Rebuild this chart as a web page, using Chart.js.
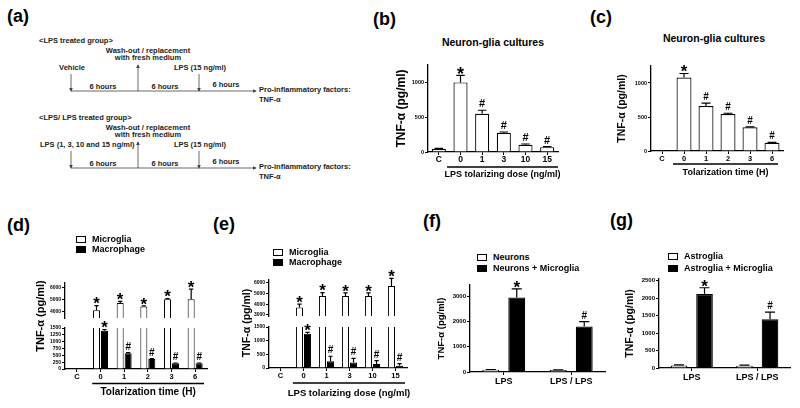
<!DOCTYPE html>
<html>
<head>
<meta charset="utf-8">
<title>TNF-α tolerance figure</title>
<script src="https://cdn.jsdelivr.net/npm/chart.js@4.4.1/dist/chart.umd.min.js"></script>
<style>
body { margin: 0; background: #fff; }
#fig { position: relative; width: 800px; height: 408px; overflow: hidden; background: #fff;
  font-family: 'Liberation Sans', Arial, sans-serif; font-weight: bold; color: #000; }
#fig canvas { position: absolute; }
.lbl { position: absolute; white-space: nowrap; line-height: 1; }
.key { position: absolute; width: 10px; height: 7px; border: 1px solid #000; box-sizing: border-box; }
#schema { position: absolute; left: 0; top: 0; }
#schema text { font-size: 7.5px; font-weight: bold; fill: #222; dominant-baseline: central; }
#schema line { stroke: #444; stroke-width: 0.8; }
</style>
</head>
<body>
<div id="fig">
  <svg id="schema" width="380" height="200">
    <defs>
      <marker id="ah" viewBox="0 0 6 6" refX="5" refY="3" markerWidth="5" markerHeight="5" orient="auto">
        <path d="M0,0 L6,3 L0,6 z" fill="#444"/>
      </marker>
    </defs>
  </svg>
  <canvas id="chartB" width="172" height="127" style="left:390px;top:55px"></canvas>
  <canvas id="chartC" width="176" height="124" style="left:612px;top:56px"></canvas>
  <canvas id="chartD1" width="167" height="49" style="left:45px;top:273px"></canvas>
  <canvas id="chartD2" width="167" height="84" style="left:45px;top:315px"></canvas>
  <canvas id="chartE1" width="163" height="58" style="left:249px;top:262px"></canvas>
  <canvas id="chartE2" width="163" height="86" style="left:249px;top:314px"></canvas>
  <canvas id="chartF" width="178" height="122" style="left:432px;top:268px"></canvas>
  <canvas id="chartG" width="176" height="124" style="left:620px;top:262px"></canvas>
</div>
<script>
// categories
const doseLabels = ['C', '0', '1', '3', '10', '15'];
const timeLabels = ['C', '0', '1', '2', '3', '6'];
const groupLabels = ['LPS', 'LPS / LPS'];

// (b) neuron-glia cultures, tolarizing dose
const bValues = [45, 1000, 550, 275, 105, 70];
const bErrors = [8, 100, 50, 12, 10, 8];
const bMarks = ['', '*', '#', '#', '#', '#'];
const bTicks = [0, 500, 1000];

// (c) neuron-glia cultures, tolarization time
const cValues = [null, 1080, 660, 545, 348, 120];
const cErrors = [0, 60, 45, 10, 8, 6];
const cMarks = ['', '*', '#', '#', '#', '#'];
const cTicks = [0, 500, 1000];

// (d) microglia vs macrophage, time
const dSeries = ['Microglia', 'Macrophage'];
const dMicroglia = [null, 4150, 4750, 4450, 5050, 5050];
const dMicrogliaErr = [0, 380, 120, 60, 50, 850];
const dMicrogliaMarks = ['', '*', '*', '*', '*', '*'];
const dMacrophage = [null, 1400, 580, 370, 210, 210];
const dMacrophageErr = [0, 40, 20, 10, 10, 10];
const dMacrophageMarks = ['', '*', '#', '#', '#', '#'];
const dUpperTicks = [4000, 5000, 6000];
const dLowerTicks = [0, 250, 500, 750, 1000, 1250, 1500];

// (e) microglia vs macrophage, dose
const eMicroglia = [null, 3700, 4750, 4750, 4750, 5700];
const eMicrogliaErr = [0, 300, 320, 300, 300, 700];
const eMicrogliaMarks = ['', '*', '*', '*', '*', '*'];
const eMacrophage = [null, 1250, 250, 200, 150, 80];
const eMacrophageErr = [0, 50, 180, 150, 120, 80];
const eMacrophageMarks = ['', '*', '#', '#', '#', '#'];
const eUpperTicks = [3000, 4000, 5000, 6000];
const eLowerTicks = [0, 500, 1000, 1500];

// (f) neurons
const fSeries = ['Neurons', 'Neurons + Microglia'];
const fNeurons = [90, 80];
const fNeuronsErr = [10, 10];
const fMixed = [2950, 1800];
const fMixedErr = [350, 200];
const fMixedMarks = ['*', '#'];
const fTicks = [0, 1000, 2000, 3000];

// (g) astroglia
const gSeries = ['Astroglia', 'Astroglia + Microglia'];
const gAstroglia = [75, 65];
const gAstrogliaErr = [15, 15];
const gMixed = [2120, 1400];
const gMixedErr = [180, 200];
const gMixedMarks = ['*', '#'];
const gTicks = [0, 500, 1000, 1500, 2000, 2500];

const FONT = "'Liberation Sans', Arial, sans-serif";
Chart.defaults.font.family = FONT;
Chart.defaults.font.weight = 'bold';
Chart.defaults.color = '#000';

// error bars (upper SEM) and significance marks
const errorMarks = {
  id: 'errorMarks',
  afterDatasetsDraw(chart, args, opts) {
    const ctx = chart.ctx;
    const y = chart.scales.y;
    chart.data.datasets.forEach((ds, i) => {
      chart.getDatasetMeta(i).data.forEach((bar, j) => {
        const v = ds.data[j];
        if (v == null || v < y.min || v > y.max) return;
        const err = ds.errors ? ds.errors[j] : 0;
        const top = y.getPixelForValue(v + err);
        ctx.save();
        ctx.strokeStyle = '#000';
        ctx.lineWidth = 1.2;
        if (err) {
          const cap = bar.width * 0.3;
          ctx.beginPath();
          ctx.moveTo(bar.x, bar.y);
          ctx.lineTo(bar.x, top);
          ctx.moveTo(bar.x - cap, top);
          ctx.lineTo(bar.x + cap, top);
          ctx.stroke();
        }
        const m = ds.marks ? ds.marks[j] : '';
        if (m) {
          const size = m === '*' ? opts.star : opts.hash;
          ctx.font = `bold ${size}px ${FONT}`;
          ctx.fillStyle = '#000';
          ctx.textAlign = 'center';
          ctx.textBaseline = 'alphabetic';
          ctx.fillText(m, bar.x, top - 3 + (m === '*' ? size * 0.4 : 0));
        }
        ctx.restore();
      });
    });
  }
};

// line under the treated groups with the x-axis caption
const bracket = {
  id: 'bracket',
  afterDraw(chart, args, opts) {
    if (!opts.text) return;
    const { ctx, chartArea } = chart;
    const x = chart.scales.x;
    const step = x.getPixelForTick(1) - x.getPixelForTick(0);
    const x0 = x.getPixelForTick(1) - step * opts.lead;
    const x1 = chartArea.right - opts.trim;
    const y = chartArea.bottom + opts.offset;
    ctx.save();
    ctx.strokeStyle = '#000';
    ctx.lineWidth = 1.5;
    ctx.beginPath();
    ctx.moveTo(x0, y);
    ctx.lineTo(x1, y);
    ctx.stroke();
    ctx.font = `bold ${opts.size}px ${FONT}`;
    ctx.fillStyle = '#000';
    ctx.textAlign = 'center';
    ctx.textBaseline = 'middle';
    ctx.fillText(opts.text, (x0 + x1) / 2, y + opts.gap);
    ctx.restore();
  }
};
Chart.register(errorMarks, bracket);

function series(label, data, errors, marks, fill, bw) {
  return { label, data, errors, marks, backgroundColor: fill, borderColor: '#000',
           borderWidth: bw || 1.2, clip: 0 };
}

function barChart(id, labels, datasets, o) {
  return new Chart(id, {
    type: 'bar',
    data: { labels, datasets },
    options: {
      responsive: false,
      animation: false,
      layout: { padding: { top: o.top, right: o.right, left: 0, bottom: 0 } },
      datasets: { bar: { categoryPercentage: o.cat, barPercentage: o.bar } },
      scales: {
        x: {
          display: o.xDisplay !== false,
          afterFit: s => { if (o.xHeight) s.height = o.xHeight; },
          border: { color: '#000', width: 1.3 },
          grid: { drawOnChartArea: false, tickLength: 3, color: '#000', offset: false },
          ticks: { font: { size: o.xTickSize || 8 }, padding: o.xPad || 0, maxRotation: 0, autoSkip: false }
        },
        y: {
          min: o.min,
          max: o.max,
          afterBuildTicks: s => { s.ticks = o.ticks.map(v => ({ value: v })); },
          afterFit: s => { s.width = o.yWidth; },
          border: { color: '#000', width: 1.3 },
          grid: { drawOnChartArea: false, tickLength: 3, color: '#000' },
          ticks: { font: { size: o.tickSize }, padding: 1, autoSkip: false, callback: v => String(v) },
          title: { display: !!o.title, text: o.title || '', font: { size: o.titleSize || 10 },
                   padding: { top: 4, bottom: 0 } }
        }
      },
      plugins: {
        legend: { display: false },
        tooltip: { enabled: false },
        bracket: o.bracket || {},
        errorMarks: { star: o.star, hash: o.hash }
      }
    }
  });
}

const white = '#fff', black = '#000';
const yTitle = 'TNF-α (pg/ml)';

barChart('chartB', doseLabels,
  [series('Neuron-glia cultures', bValues, bErrors, bMarks, white)],
  { top: 10, right: 4, yWidth: 38, xHeight: 30, min: 0, max: 1250, ticks: bTicks, tickSize: 5.5,
    title: yTitle, titleSize: 12, xTickSize: 8.5, cat: 0.65, bar: 1, star: 18, hash: 11,
    bracket: { text: 'LPS tolarizing dose (ng/ml)', size: 9, offset: 15, gap: 8, lead: 0.62, trim: 0 } });

barChart('chartC', timeLabels,
  [series('Neuron-glia cultures', cValues, cErrors, cMarks, white)],
  { top: 10, right: 5, yWidth: 39, xHeight: 29, min: 0, max: 1250, ticks: cTicks, tickSize: 5.5,
    title: yTitle, titleSize: 10.5, xTickSize: 7.5, cat: 0.68, bar: 1, star: 17, hash: 10,
    bracket: { text: 'Tolarization time (H)', size: 9, offset: 13, gap: 9, lead: 0.5, trim: 5 } });

// (d) broken axis: upper and lower segments
barChart('chartD1', timeLabels,
  [series(dSeries[0], dMicroglia, dMicrogliaErr, dMicrogliaMarks, white, 1),
   series(dSeries[1], dMacrophage, dMacrophageErr, dMacrophageMarks, black, 1)],
  { top: 10, right: 5, yWidth: 20, xDisplay: false, min: 3500, max: 6400, ticks: dUpperTicks,
    tickSize: 5, cat: 0.675, bar: 0.875, star: 17, hash: 10 });
barChart('chartD2', timeLabels,
  [series(dSeries[0], dMicroglia, dMicrogliaErr, dMicrogliaMarks, white, 1),
   series(dSeries[1], dMacrophage, dMacrophageErr, dMacrophageMarks, black, 1)],
  { top: 13, right: 5, yWidth: 20, xHeight: 30, min: 0, max: 1500, ticks: dLowerTicks,
    tickSize: 5, xTickSize: 7.5, cat: 0.675, bar: 0.875, star: 17, hash: 10,
    bracket: { text: 'Tolarization time (H)', size: 10, offset: 14.5, gap: 8.5, lead: 0.35, trim: 3 } });

// (e) broken axis: upper and lower segments
barChart('chartE1', doseLabels,
  [series(dSeries[0], eMicroglia, eMicrogliaErr, eMicrogliaMarks, white, 1),
   series(dSeries[1], eMacrophage, eMacrophageErr, eMacrophageMarks, black, 1)],
  { top: 18, right: 5, yWidth: 20, xDisplay: false, min: 2900, max: 6250, ticks: eUpperTicks,
    tickSize: 5, cat: 0.7, bar: 0.875, star: 17, hash: 10 });
barChart('chartE2', doseLabels,
  [series(dSeries[0], eMicroglia, eMicrogliaErr, eMicrogliaMarks, white, 1),
   series(dSeries[1], eMacrophage, eMacrophageErr, eMacrophageMarks, black, 1)],
  { top: 13, right: 5, yWidth: 20, xHeight: 32, min: 0, max: 1500, ticks: eLowerTicks,
    tickSize: 5, xTickSize: 7.5, cat: 0.7, bar: 0.875, star: 17, hash: 10,
    bracket: { text: 'LPS tolarizing dose (ng/ml)', size: 9.5, offset: 15, gap: 10, lead: 0.46, trim: 2 } });

barChart('chartF', groupLabels,
  [series(fSeries[0], fNeurons, fNeuronsErr, ['', ''], white),
   series(fSeries[1], fMixed, fMixedErr, fMixedMarks, black)],
  { top: 17, right: 5, yWidth: 38, xHeight: 18, min: 0, max: 3450, ticks: fTicks, tickSize: 6,
    title: yTitle, titleSize: 9.5, xTickSize: 9, xPad: 1, cat: 0.77, bar: 0.65, star: 17, hash: 10 });

barChart('chartG', groupLabels,
  [series(gSeries[0], gAstroglia, gAstrogliaErr, ['', ''], white),
   series(gSeries[1], gMixed, gMixedErr, gMixedMarks, black)],
  { top: 17, right: 6, yWidth: 39, xHeight: 18, min: 0, max: 2550, ticks: gTicks, tickSize: 6,
    title: yTitle, titleSize: 10.5, xTickSize: 9, xPad: 1, cat: 0.78, bar: 0.65, star: 17, hash: 10 });

// text laid over the canvases
const fig = document.getElementById('fig');
function addText(text, x, y, size, opts = {}) {
  const el = document.createElement('div');
  el.className = 'lbl';
  el.textContent = text;
  el.style.left = x + 'px';
  el.style.top = y + 'px';
  el.style.fontSize = size + 'px';
  const tx = opts.align === 'left' ? '0' : '-50%';
  el.style.transform = `translate(${tx}, -50%)` + (opts.rotate ? ' rotate(-90deg)' : '');
  fig.appendChild(el);
}
function addLegend(x, y, dy, names, fills) {
  names.forEach((name, k) => {
    const cy = y + k * dy;
    const box = document.createElement('div');
    box.className = 'key';
    box.style.left = x + 'px';
    box.style.top = (cy - 3.5) + 'px';
    box.style.background = fills[k];
    fig.appendChild(box);
    addText(name, x + 16, cy, 9, { align: 'left' });
  });
}

addText('(a)', 7, 16, 18, { align: 'left' });
addText('(b)', 373, 19, 18, { align: 'left' });
addText('(c)', 590, 17, 18, { align: 'left' });
addText('(d)', 7, 225, 18, { align: 'left' });
addText('(e)', 213, 224, 18, { align: 'left' });
addText('(f)', 423, 221, 18, { align: 'left' });
addText('(g)', 610, 220, 18, { align: 'left' });

addText('Neuron-glia cultures', 493, 42, 10.5);
addText('Neuron-glia cultures', 714, 38, 10.5);

addText(yTitle, 40, 316, 11, { rotate: true });
addText(yTitle, 246, 323, 10.5, { rotate: true });

addLegend(76, 239, 10, dSeries, [white, black]);
addLegend(273, 252, 10, dSeries, [white, black]);
addLegend(477, 257, 11, fSeries, [white, black]);
addLegend(668, 256, 12, gSeries, [white, black]);

// (a) treatment schedule
function schemaRow(L, header, first, firstX, firstAnchor) {
  const txt = (s, x, y, a = 'middle') => `<text x="${x}" y="${y}" text-anchor="${a}">${s}</text>`;
  const arrow = (x1, y1, x2, y2) => `<line x1="${x1}" y1="${y1}" x2="${x2}" y2="${y2}" marker-end="url(#ah)"/>`;
  return txt(header, 39, L - 51, 'start') +
    txt('Wash-out / replacement', 148, L - 41) +
    txt('with fresh medium', 148, L - 33.5) +
    txt(first, firstX, L - 24, firstAnchor) +
    txt('LPS (15 ng/ml)', 200, L - 24) +
    arrow(71, L - 17, 71, L) + arrow(138, L, 138, L - 26) + arrow(199, L - 17, 199, L) +
    arrow(71, L, 256, L) +
    txt('6 hours', 103, L - 5) + txt('6 hours', 165, L - 5) + txt('6 hours', 226, L - 7) +
    txt('Pro-inflammatory factors:', 259, L - 2, 'start') +
    txt('TNF-α', 259, L + 8, 'start');
}
document.getElementById('schema').insertAdjacentHTML('beforeend',
  schemaRow(91, '&lt;LPS treated group&gt;', 'Vehicle', 72, 'middle') +
  schemaRow(168, '&lt;LPS/ LPS treated group&gt;', 'LPS (1, 3, 10 and 15 ng/ml)', 40, 'start'));
</script>
</body>
</html>
